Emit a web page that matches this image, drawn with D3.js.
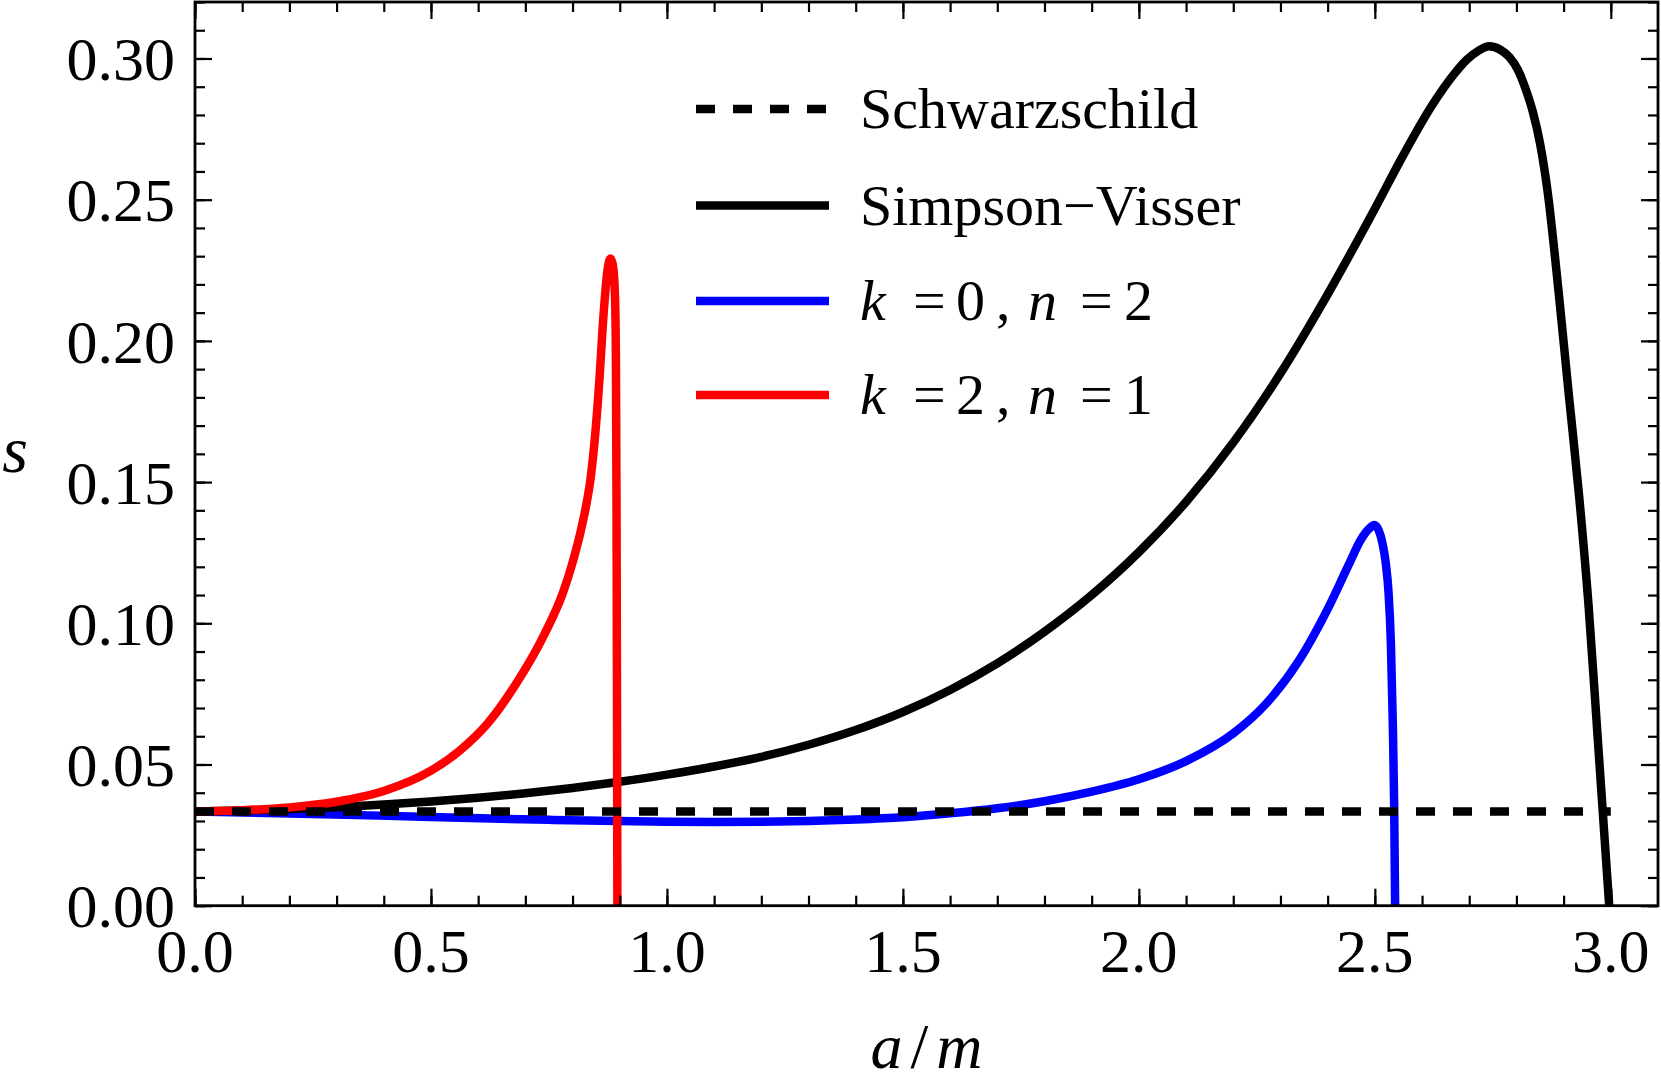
<!DOCTYPE html>
<html><head><meta charset="utf-8">
<script src="https://cdn.jsdelivr.net/npm/d3@7"></script>
<style>body{margin:0;background:#fff} svg{display:block}</style>
</head><body>
<svg id="c" width="1661" height="1087"></svg>
<script>
// ---- data ----
const xMajorTicks = [0, 0.5, 1.0, 1.5, 2.0, 2.5, 3.0];
const xTickLabels = ["0.0", "0.5", "1.0", "1.5", "2.0", "2.5", "3.0"];
const yMajorTicks = [0, 0.05, 0.10, 0.15, 0.20, 0.25, 0.30];
const yTickLabels = ["0.00", "0.05", "0.10", "0.15", "0.20", "0.25", "0.30"];

const schwA = [0, 3.0];
const schwS = [0.0334, 0.0334];

const svA = [0, 0.1, 0.2, 0.3, 0.4, 0.5, 0.6, 0.7, 0.8, 0.9, 1.0, 1.1, 1.2, 1.3, 1.4, 1.5, 1.6, 1.7, 1.8, 1.9, 2.0, 2.1, 2.2, 2.3, 2.4, 2.5, 2.56, 2.62, 2.67, 2.695, 2.72, 2.7425, 2.765, 2.785, 2.803, 2.82, 2.835, 2.85, 2.866, 2.889, 2.911, 2.933, 2.953, 2.972, 2.9966];
const svS = [0.0334, 0.0337, 0.0342, 0.0349, 0.0358, 0.0369, 0.0382, 0.0398, 0.0417, 0.0439, 0.0464, 0.0493, 0.0527, 0.0570, 0.0622, 0.0686, 0.0764, 0.0858, 0.0970, 0.1100, 0.1252, 0.1430, 0.1640, 0.1885, 0.2165, 0.2468, 0.2657, 0.2831, 0.2949, 0.2996, 0.3028, 0.3043, 0.3032, 0.3005, 0.2960, 0.2890, 0.2810, 0.2700, 0.2530, 0.2180, 0.1810, 0.1448, 0.1060, 0.0600, 0.0];

const k0n2A = [0, 0.25, 0.5, 0.75, 1.0, 1.1, 1.2, 1.3, 1.4, 1.5, 1.6, 1.7, 1.8, 1.9, 2.0, 2.1, 2.2, 2.27, 2.34, 2.40, 2.446, 2.47, 2.488, 2.499, 2.508, 2.516, 2.523, 2.529, 2.534, 2.538, 2.541, 2.543];
const k0n2S = [0.0334, 0.0325, 0.0314, 0.0304, 0.0297, 0.0296, 0.0297, 0.0300, 0.0305, 0.0313, 0.0327, 0.0345, 0.0370, 0.0404, 0.0448, 0.0512, 0.0610, 0.0716, 0.0870, 0.1050, 0.1212, 0.1295, 0.1335, 0.1348, 0.1330, 0.1285, 0.1215, 0.1110, 0.0930, 0.0650, 0.0350, 0.0];

const k2n1A = [0, 0.1, 0.2, 0.3, 0.4, 0.5, 0.56, 0.62, 0.68, 0.74, 0.78, 0.80, 0.815, 0.828, 0.838, 0.847, 0.856, 0.866, 0.874, 0.8803, 0.885, 0.888, 0.8905, 0.892, 0.8932, 0.8942, 0.895];
const k2n1S = [0.0334, 0.0338, 0.0348, 0.0368, 0.0406, 0.0478, 0.0548, 0.0645, 0.0785, 0.0960, 0.1110, 0.1215, 0.1310, 0.1410, 0.1510, 0.1650, 0.1840, 0.2100, 0.2250, 0.2292, 0.2272, 0.2225, 0.2120, 0.1900, 0.1400, 0.0700, 0.0];

const legendLabels = ["Schwarzschild", "Simpson\u2212Visser"];

// ---- layout ----
const L = 195, R = 1658, T = 2, B = 905.7;
const svg = d3.select("#c");
const x = d3.scaleLinear().domain([0, 3.1]).range([L, R]);
const y = d3.scaleLinear().domain([0, 0.32]).range([B, T]);
const FONT = "'Liberation Serif', 'Times New Roman', serif";

const xMinor = d3.range(0, 31).map(i => i / 10);
const yMinor = d3.range(0, 33).map(i => i / 100);

svg.append("defs").append("clipPath").attr("id", "clip")
  .append("rect").attr("x", L).attr("y", T).attr("width", R - L).attr("height", B - T);

const lineGen = d3.line().x(d => x(d[0])).y(d => y(d[1])).curve(d3.curveMonotoneX);
const zip = (a, s) => a.map((v, i) => [v, s[i]]);

const plot = svg.append("g").attr("clip-path", "url(#clip)");
const LW = 8.5;
plot.append("path").attr("d", lineGen(zip(k0n2A, k0n2S))).attr("fill", "none")
  .attr("stroke", "#0000ff").attr("stroke-width", LW).attr("stroke-linejoin", "round");
plot.append("path").attr("d", lineGen(zip(svA, svS))).attr("fill", "none")
  .attr("stroke", "#000").attr("stroke-width", LW).attr("stroke-linejoin", "round");
plot.append("path").attr("d", lineGen(zip(k2n1A, k2n1S))).attr("fill", "none")
  .attr("stroke", "#ff0000").attr("stroke-width", LW).attr("stroke-linejoin", "round");
plot.append("path").attr("d", d3.line().x(d => x(d[0])).y(d => y(d[1]))(zip(schwA, schwS))).attr("fill", "none")
  .attr("stroke", "#000").attr("stroke-width", LW).attr("stroke-dasharray", "19,18");

// ---- axes (inward ticks on all sides) ----
function styleAxis(g) {
  g.select(".domain").remove();
  g.selectAll(".tick line").attr("stroke", "#000").attr("stroke-width", 2.2);
  g.selectAll(".tick text").remove();
}
const axes = [
  [d3.axisBottom(x).tickValues(xMinor).tickSize(-10), `translate(0,${B})`],
  [d3.axisBottom(x).tickValues(xMajorTicks).tickSize(-17), `translate(0,${B})`],
  [d3.axisTop(x).tickValues(xMinor).tickSize(-10), `translate(0,${T})`],
  [d3.axisTop(x).tickValues(xMajorTicks).tickSize(-17), `translate(0,${T})`],
  [d3.axisLeft(y).tickValues(yMinor).tickSize(-10), `translate(${L},0)`],
  [d3.axisLeft(y).tickValues(yMajorTicks).tickSize(-17), `translate(${L},0)`],
  [d3.axisRight(y).tickValues(yMinor).tickSize(-10), `translate(${R},0)`],
  [d3.axisRight(y).tickValues(yMajorTicks).tickSize(-17), `translate(${R},0)`]
];
axes.forEach(([ax, tr]) => svg.append("g").attr("transform", tr).call(ax).call(styleAxis));

svg.append("rect").attr("x", L).attr("y", T).attr("width", R - L).attr("height", B - T)
  .attr("fill", "none").attr("stroke", "#000").attr("stroke-width", 2.8);

// tick labels
svg.append("g").selectAll("text").data(xMajorTicks).join("text")
  .attr("x", d => x(d)).attr("y", 972).attr("text-anchor", "middle")
  .attr("font-family", FONT).attr("font-size", 62).text((d, i) => xTickLabels[i]);
svg.append("g").selectAll("text").data(yMajorTicks).join("text")
  .attr("x", 175).attr("y", d => y(d) + 21.7).attr("text-anchor", "end")
  .attr("font-family", FONT).attr("font-size", 62).text((d, i) => yTickLabels[i]);

// axis titles
const xt = svg.append("text").attr("x", (L + R) / 2).attr("y", 1068).attr("text-anchor", "middle")
  .attr("font-family", FONT).attr("font-size", 64);
xt.append("tspan").attr("font-style", "italic").text("a");
xt.append("tspan").attr("dx", 8).text("/");
xt.append("tspan").attr("dx", 8).attr("font-style", "italic").text("m");
svg.append("text").attr("x", 15).attr("y", 472).attr("text-anchor", "middle")
  .attr("font-family", FONT).attr("font-size", 66).attr("font-style", "italic").text("s");

// ---- legend ----
const LX0 = 696, LX1 = 829, TX = 860;
const rows = [109, 205.5, 301, 395];
const lg = svg.append("g");
lg.append("line").attr("x1", LX0).attr("x2", LX1).attr("y1", rows[0]).attr("y2", rows[0])
  .attr("stroke", "#000").attr("stroke-width", LW).attr("stroke-dasharray", "19,18");
lg.append("line").attr("x1", LX0).attr("x2", LX1).attr("y1", rows[1]).attr("y2", rows[1])
  .attr("stroke", "#000").attr("stroke-width", LW);
lg.append("line").attr("x1", LX0).attr("x2", LX1).attr("y1", rows[2]).attr("y2", rows[2])
  .attr("stroke", "#0000ff").attr("stroke-width", LW);
lg.append("line").attr("x1", LX0).attr("x2", LX1).attr("y1", rows[3]).attr("y2", rows[3])
  .attr("stroke", "#ff0000").attr("stroke-width", LW);

[0, 1].forEach(i => lg.append("text").attr("x", TX).attr("y", rows[i] + 19)
  .attr("font-family", FONT).attr("font-size", 58).text(legendLabels[i]));

function mathLabel(row, kv, nv) {
  const t = lg.append("text").attr("y", row + 19).attr("font-family", FONT).attr("font-size", 58);
  const parts = [["k", true, 0], ["=", false, 53], [kv, false, 96], [",", false, 136],
                 ["n", true, 168], ["=", false, 220], [nv, false, 264]];
  parts.forEach(([s, it, dx]) => {
    const ts = t.append("tspan").attr("x", TX + dx).text(s);
    if (it) ts.attr("font-style", "italic");
  });
}
mathLabel(rows[2], "0", "2");
mathLabel(rows[3], "2", "1");
</script>
</body></html>
